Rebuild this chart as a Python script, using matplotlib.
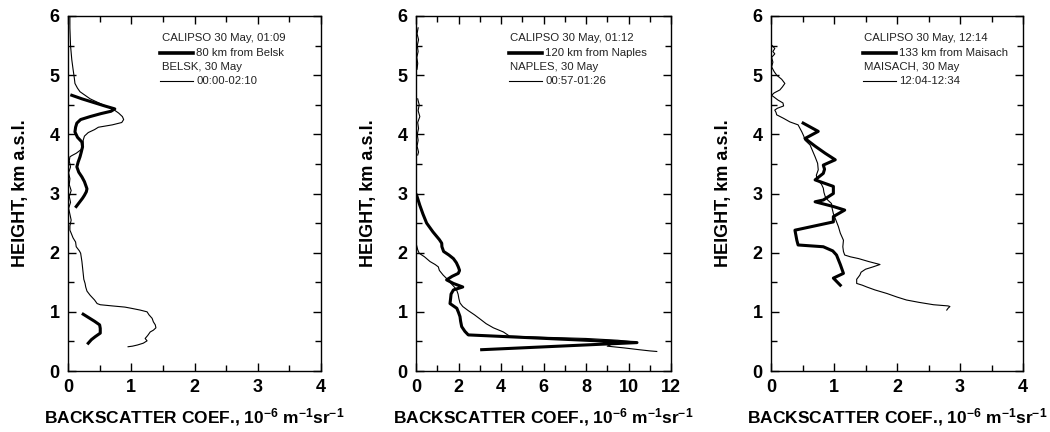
import numpy as np
import matplotlib
matplotlib.use("Agg")
import matplotlib.pyplot as plt
from matplotlib.ticker import MultipleLocator

plt.rcParams['font.family'] = ['Liberation Sans', 'DejaVu Sans']
plt.rcParams['mathtext.fontset'] = 'custom'
plt.rcParams['mathtext.rm'] = 'Liberation Sans:bold'
plt.rcParams['mathtext.default'] = 'rm'

# --- Belsk panel ---
belsk_h = [6.0, 5.8, 5.5, 5.26, 5.1, 4.95, 4.86, 4.78, 4.72, 4.6, 4.5, 4.42, 4.36, 4.3, 4.25,
           4.2, 4.16, 4.12, 4.08, 4.03, 3.97, 3.9, 3.82, 3.76, 3.72, 3.68, 3.64, 3.62, 3.55,
           3.45, 3.35, 3.25, 3.15, 3.05, 2.95, 2.85, 2.75, 2.65, 2.55, 2.45, 2.38, 2.33, 2.25,
           2.18, 2.1, 2.03, 1.99, 1.92, 1.85, 1.75, 1.65, 1.55, 1.48, 1.42, 1.35, 1.28, 1.2,
           1.14, 1.12, 1.1, 1.08, 1.06, 1.03, 1.0, 0.95, 0.89, 0.83, 0.78, 0.73, 0.69, 0.66,
           0.6, 0.55, 0.51, 0.47, 0.44, 0.42, 0.41]
belsk_v = [0.03, 0.03, 0.04, 0.06, 0.08, 0.1, 0.11, 0.15, 0.19, 0.35, 0.55, 0.72, 0.8, 0.86, 0.88,
           0.85, 0.7, 0.48, 0.42, 0.32, 0.26, 0.24, 0.24, 0.23, 0.18, 0.13, 0.06, 0.03, 0.02,
           0.04, 0.01, 0.03, 0.02, 0.05, 0.02, 0.04, 0.01, 0.03, 0.05, 0.03, 0.03, 0.05, 0.08,
           0.12, 0.13, 0.18, 0.2, 0.21, 0.22, 0.23, 0.24, 0.25, 0.27, 0.28, 0.3, 0.35, 0.42,
           0.46, 0.51, 0.7, 0.9, 1.0, 1.14, 1.25, 1.28, 1.33, 1.35, 1.38, 1.39, 1.35, 1.3,
           1.26, 1.22, 1.25, 1.19, 1.1, 1.02, 0.95]
cal1_h = [4.66, 4.6, 4.54, 4.48, 4.43, 4.39, 4.35, 4.3, 4.25, 4.19, 4.12, 4.04, 3.95, 3.87, 3.79,
          3.7, 3.62, 3.53, 3.45, 3.36, 3.28, 3.2, 3.14, 3.08, 3.03, 2.97, 2.92, 2.85, 2.78,
          np.nan, 0.96, 0.9, 0.84, 0.78, 0.72, 0.64, 0.58, 0.53, 0.47]
cal1_v = [0.06, 0.22, 0.4, 0.58, 0.74, 0.68, 0.52, 0.35, 0.2, 0.14, 0.12, 0.11, 0.15, 0.22, 0.23,
          0.21, 0.19, 0.16, 0.14, 0.17, 0.22, 0.26, 0.28, 0.3, 0.29, 0.26, 0.23, 0.18, 0.13,
          np.nan, 0.24, 0.33, 0.42, 0.5, 0.51, 0.51, 0.43, 0.37, 0.32]

# --- Naples panel ---
naples_h = [5.8, 5.7, 5.6, 5.5, 5.4, 5.3, 5.2, 5.1, np.nan, 4.6, 4.5, 4.4, 4.3, 4.2, 4.1, 4.0,
            3.9, 3.8, 3.7, 3.65, np.nan,
            2.12, 2.05, 1.99, 1.93, 1.85, 1.8, 1.76, 1.7, 1.62, 1.56, 1.5, 1.44, 1.38, 1.3,
            1.22, 1.15, 1.09, 1.02, 0.95, 0.88, 0.8, 0.73, 0.66, 0.59, 0.57, 0.55, 0.52, 0.49,
            0.45, 0.42, 0.39, 0.36, 0.34, 0.33]
naples_v = [0.1, 0.05, 0.12, 0.06, 0.1, 0.04, 0.08, 0.05, np.nan, 0.08, 0.15, 0.1, 0.18, 0.08,
            0.12, 0.06, 0.1, 0.05, 0.12, 0.08, np.nan,
            0.03, 0.08, 0.15, 0.4, 0.66, 0.9, 1.05, 1.1, 1.28, 1.45, 1.6, 1.75, 1.9, 1.98,
            2.02, 2.07, 2.2, 2.46, 2.75, 3.01, 3.3, 3.64, 4.11, 4.4, 6.0, 8.0, 9.5, 10.3,
            9.2, 9.0, 9.8, 10.5, 11.0, 11.33]
cal2_h = [2.97, 2.8, 2.65, 2.5, 2.35, 2.22, 2.16, 2.1, 2.02, 1.96, 1.9, 1.83, 1.76, 1.7, 1.65,
          1.6, 1.54, 1.48, 1.42, 1.37, 1.3, 1.23, 1.14, 1.06, 0.99, 0.92, 0.84, 0.75, 0.67,
          0.61, 0.48, 0.36]
cal2_v = [0.03, 0.18, 0.33, 0.5, 0.8, 1.1, 1.21, 1.22, 1.3, 1.55, 1.76, 1.9, 1.99, 2.05, 1.99,
          1.7, 1.44, 1.76, 2.2, 1.76, 1.65, 1.63, 1.6, 1.92, 2.0, 2.07, 2.1, 2.15, 2.3,
          2.46, 10.4, 3.09]

# --- Maisach panel ---
maisach_h = [5.5, 5.45, 5.4, 5.36, 5.3, 5.22, 5.14, 5.06, 5.0, 4.93, 4.86, 4.8, 4.75, 4.7, 4.66,
             4.62, 4.58, 4.53, 4.48, 4.44, 4.41, 4.37, 4.33, 4.27, 4.21, 4.16, 4.1, 4.04, 3.97,
             3.9, 3.82, 3.72, 3.62, 3.51, 3.4, 3.31, 3.23, 3.16, 3.09, 3.02, 2.95, 2.89, 2.83,
             2.75, 2.66, 2.55, 2.44, 2.33, 2.21, 2.1, 2.02, 1.96, 1.93, 1.9, 1.85, 1.8, 1.76,
             1.72, 1.67, 1.62, 1.55, 1.48, 1.45, 1.42, 1.37, 1.31, 1.25, 1.2, 1.16, 1.12, 1.1,
             1.09, 1.06, 1.03]
maisach_v = [0.02, 0.06, 0.03, 0.06, 0.01, 0.03, 0.01, 0.05, 0.09, 0.17, 0.22, 0.18, 0.14, 0.05,
             0.01, 0.06, 0.11, 0.19, 0.2, 0.1, 0.06, 0.08, 0.09, 0.2, 0.3, 0.43, 0.46, 0.49,
             0.52, 0.54, 0.62, 0.66, 0.7, 0.74, 0.75, 0.72, 0.73, 0.8, 0.83, 0.84, 0.86, 0.9,
             0.96, 0.97, 0.99, 1.03, 1.07, 1.1, 1.15, 1.14, 1.15, 1.17, 1.26, 1.39, 1.55, 1.73,
             1.62, 1.5, 1.43, 1.41, 1.36, 1.36, 1.45, 1.52, 1.65, 1.84, 2.0, 2.15, 2.35, 2.58,
             2.81, 2.84, 2.81, 2.79]
cal3_h = [4.19, 4.05, 3.93, 3.8, 3.68, 3.57, 3.48, 3.41, 3.34, 3.23, 3.12, 3.0, 2.89, 2.86, 2.78,
          2.72, 2.61, 2.52, 2.38, 2.21, 2.13, 2.1, 2.03, 1.96, 1.8, 1.65, 1.57, 1.45]
cal3_v = [0.51, 0.75, 0.54, 0.7, 0.86, 1.02, 0.83, 0.85, 0.83, 0.7, 0.99, 0.99, 0.83, 0.7, 0.99,
          1.17, 0.99, 0.99, 0.38, 0.41, 0.43, 0.83, 0.98, 1.04, 1.1, 1.15, 0.99, 1.1]

legend_lines = [
    ("CALIPSO 30 May, 01:09", "80 km from Belsk", "BELSK, 30 May", "00:00-02:10"),
    ("CALIPSO 30 May, 01:12", "120 km from Naples", "NAPLES, 30 May", "00:57-01:26"),
    ("CALIPSO 30 May, 12:14", "133 km from Maisach", "MAISACH, 30 May", "12:04-12:34"),
]
xlims = [4, 12, 4]
xmajor = [1, 2, 1]
xminor = [0.5, 1, 0.5]

fig = plt.figure(figsize=(10.5, 4.32), dpi=100)
W, H = 1050, 432
lefts = [68, 416, 771]
widths = [253, 255, 252]
axes = [fig.add_axes([l / W, (H - 371) / H, w / W, 355 / H]) for l, w in zip(lefts, widths)]

profiles = [(belsk_v, belsk_h, cal1_v, cal1_h),
            (naples_v, naples_h, cal2_v, cal2_h),
            (maisach_v, maisach_h, cal3_v, cal3_h)]

for i, ax in enumerate(axes):
    tv, th, cv, ch = profiles[i]
    ax.plot(tv, th, color='black', lw=0.8)
    ax.plot(cv, ch, color='black', lw=2.2)
    ax.set_xlim(0, xlims[i])
    ax.set_ylim(0, 6)
    ax.xaxis.set_major_locator(MultipleLocator(xmajor[i]))
    ax.xaxis.set_minor_locator(MultipleLocator(xminor[i]))
    ax.yaxis.set_major_locator(MultipleLocator(1))
    ax.yaxis.set_minor_locator(MultipleLocator(0.5))
    ax.tick_params(which='both', direction='in', top=True, right=True, width=1)
    ax.tick_params(which='major', length=6, labelsize=13, pad=6)
    ax.tick_params(which='minor', length=4)
    for lab in ax.get_xticklabels() + ax.get_yticklabels():
        lab.set_fontweight('bold')
    for s in ax.spines.values():
        s.set_linewidth(1)
    ax.set_xlabel('BACKSCATTER COEF., 10$^{-6}$ m$^{-1}$sr$^{-1}$',
                  fontsize=12.5, fontweight='bold', labelpad=7)
    ax.set_ylabel('HEIGHT, km a.s.l.', fontsize=13, fontweight='bold', labelpad=15)

    # legend block
    l1, l2, l3, l4 = legend_lines[i]
    x0 = 0.37
    fs = 8.2
    ax.text(x0, 0.937, l1, transform=ax.transAxes, fontsize=fs, va='center', color='#222')
    ax.plot([x0 - 0.005, x0 + 0.125], [0.897, 0.897], transform=ax.transAxes, color='black', lw=2.6)
    ax.text(x0 + 0.137, 0.897, l2, transform=ax.transAxes, fontsize=fs, va='center', color='#222')
    ax.text(x0, 0.857, l3, transform=ax.transAxes, fontsize=fs, va='center', color='#222')
    ax.plot([x0 - 0.005, x0 + 0.125], [0.817, 0.817], transform=ax.transAxes, color='black', lw=0.8)
    ax.text(x0 + 0.137, 0.817, l4, transform=ax.transAxes, fontsize=fs, va='center', color='#222')

fig.savefig('out.png', dpi=100)
